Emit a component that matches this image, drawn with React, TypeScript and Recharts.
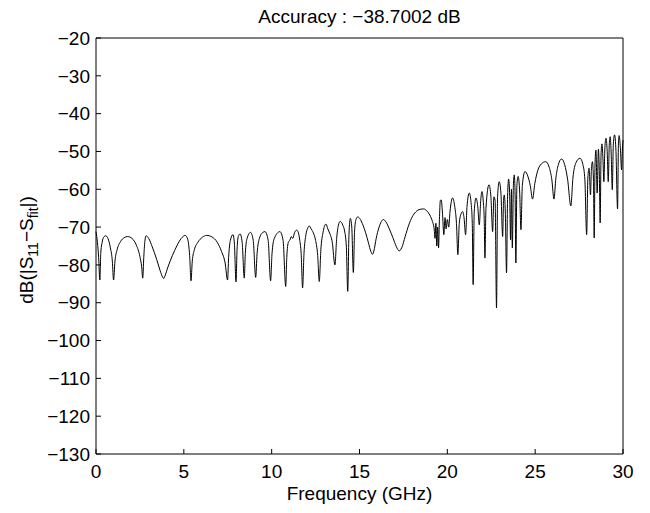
import React from 'react';
import { LineChart, Line, XAxis, YAxis } from 'recharts';

const FONT = '"Liberation Sans", Arial, Helvetica, sans-serif';

const titleText = 'Accuracy : −38.7002 dB';
const xLabelText = 'Frequency (GHz)';
const xTicks = [0, 5, 10, 15, 20, 25, 30];
const yTicks = [-130, -120, -110, -100, -90, -80, -70, -60, -50, -40, -30, -20];

// [frequency GHz, dB(|S11 - Sfit|)]
const band0to5: [number, number][] = [
  [0, -71.2], [0.08, -74], [0.15, -78], [0.22, -84],
  [0.27, -77], [0.35, -74], [0.45, -72.6], [0.55, -72.3], [0.68, -73], [0.82, -75.5], [0.93, -79], [1.0, -84],
  [1.08, -79], [1.2, -76], [1.4, -73.8], [1.6, -72.8], [1.8, -72.5], [2.05, -73], [2.3, -74.8], [2.5, -77.8], [2.6, -80.5], [2.66, -83.5],
  [2.72, -78], [2.78, -73.8], [2.85, -72.3], [3.0, -73], [3.2, -75.2], [3.45, -78.5], [3.65, -81.5], [3.8, -83.3], [3.86, -83.6], [3.92, -83],
  [4.1, -80.5], [4.35, -77.5], [4.6, -75], [4.85, -73], [5.08, -72.2], [5.22, -73.2], [5.33, -77.5], [5.41, -84.2],
];

const band5to11: [number, number][] = [
  [5.48, -79], [5.6, -76], [5.8, -74], [6.05, -72.7], [6.3, -72.2], [6.6, -72.6], [6.9, -74], [7.15, -76.5], [7.35, -79.5], [7.49, -84],
  [7.55, -78], [7.65, -73.5], [7.8, -72], [7.88, -74.5], [7.97, -84.5],
  [8.03, -76], [8.1, -72.5], [8.2, -71.8], [8.32, -74], [8.44, -83.5],
  [8.5, -77], [8.6, -73], [8.8, -71.4], [8.95, -73.5], [9.09, -83.3],
  [9.17, -77], [9.3, -73], [9.5, -71.4], [9.62, -71.2], [9.8, -73.5], [9.94, -84.2],
  [10.02, -77], [10.15, -73], [10.47, -71.2], [10.65, -73.5], [10.8, -85.7],
];

const band11to15: [number, number][] = [
  [10.86, -78], [10.95, -74], [11.04, -73.4], [11.12, -72.5], [11.2, -73], [11.3, -71.5], [11.42, -70.8], [11.52, -71.5], [11.6, -73.5], [11.68, -77], [11.76, -86.1],
  [11.84, -77], [11.95, -72], [12.05, -70.3], [12.14, -69.7], [12.25, -70.5], [12.37, -71.5], [12.5, -73.5], [12.62, -77.5], [12.71, -84.4],
  [12.8, -76], [12.92, -71.5], [13.09, -69.2], [13.2, -70.5], [13.3, -71.6], [13.45, -74], [13.6, -80],
  [13.7, -73], [13.8, -69.5], [13.9, -68.5], [14.05, -69.5], [14.15, -71], [14.25, -75], [14.33, -87],
  [14.4, -72], [14.48, -67.7], [14.56, -70], [14.65, -82], [14.72, -71], [14.8, -68], [14.9, -67.3],
];

const band15to20: [number, number][] = [
  [15.05, -68], [15.2, -69.5], [15.35, -71.5], [15.5, -74], [15.65, -76.5], [15.74, -77.2], [15.82, -76.3], [15.95, -73], [16.1, -70.2], [16.25, -68.5], [16.35, -68],
  [16.5, -68.6], [16.7, -70.5], [16.9, -72.8], [17.1, -75.2], [17.26, -76.3], [17.4, -75.5], [17.6, -72.5], [17.8, -69.5], [18.0, -67.3], [18.2, -66], [18.45, -65.3], [18.65, -65.2],
  [18.85, -65.8], [19.0, -66.8], [19.15, -68.5], [19.25, -70.5], [19.3, -73], [19.35, -69], [19.4, -75], [19.45, -70], [19.5, -75.5], [19.55, -68], [19.6, -63], [19.65, -62.8],
  [19.72, -66], [19.8, -72], [19.87, -67.5], [19.93, -70.5], [20.0, -68], [20.08, -70], [20.15, -66], [20.3, -62.3],
];

const band20to25: [number, number][] = [
  [20.42, -64.5], [20.52, -69], [20.6, -77.3], [20.68, -69], [20.78, -66.5], [20.87, -65.9], [20.95, -67.5], [21.04, -72],
  [21.12, -64.5], [21.25, -61], [21.35, -63.5], [21.42, -69], [21.47, -85.2], [21.53, -66], [21.63, -62.3], [21.73, -64.5], [21.82, -69.4],
  [21.9, -63], [21.97, -60.6], [22.05, -63.5], [22.1, -68], [22.14, -78.2], [22.2, -65], [22.37, -58.8], [22.48, -62], [22.58, -71.2],
  [22.65, -62], [22.72, -63], [22.8, -91.4], [22.86, -62], [22.95, -58], [23.05, -61], [23.15, -72.5], [23.2, -63], [23.24, -61.5], [23.3, -66], [23.37, -82.1],
  [23.43, -62], [23.49, -57.3], [23.55, -62], [23.6, -73.4], [23.65, -60], [23.7, -75.5], [23.76, -59], [23.81, -56.2], [23.86, -62], [23.9, -79.5],
  [23.96, -59], [24.03, -56.6], [24.12, -61], [24.19, -70.7], [24.27, -59], [24.42, -55.3], [24.58, -56.5], [24.72, -59], [24.85, -62.6],
  [24.98, -58.5], [25.15, -55], [25.35, -53.3],
];

const band25to30: [number, number][] = [
  [25.6, -52.7], [25.8, -54.2], [25.95, -57.5], [26.07, -62.6], [26.18, -57], [26.32, -53.5], [26.5, -52], [26.68, -53.5], [26.85, -57.5], [27.03, -64.4],
  [27.15, -57], [27.32, -53], [27.55, -51.8], [27.72, -53.5], [27.83, -57.5], [27.93, -72], [28.0, -57], [28.07, -54.4], [28.15, -61.5], [28.2, -55],
  [28.26, -52.7], [28.32, -58], [28.36, -72.9], [28.41, -53], [28.46, -49.6], [28.53, -61], [28.6, -49.4], [28.65, -55], [28.7, -68.9], [28.75, -51],
  [28.8, -48], [28.86, -52], [28.91, -58], [28.97, -49], [29.03, -46.5], [29.1, -50], [29.16, -58], [29.22, -48], [29.27, -46.1], [29.33, -51],
  [29.39, -60.1], [29.45, -48], [29.52, -45.6], [29.6, -50], [29.69, -65.2], [29.74, -48], [29.78, -45.8], [29.85, -49], [29.92, -54.9], [29.96, -50], [30.0, -47],
];

const data = [...band0to5, ...band5to11, ...band11to15, ...band15to20, ...band20to25, ...band25to30].map(([f, d]) => ({ f, d }));

const fmt = (v: number) => String(v).replace('-', '\u2212');

const TitleLabel = (props: any) => {
  const vb = props.viewBox || { x: 96, y: 8, width: 527, height: 30 };
  return (
    <text x={vb.x + vb.width / 2} y={23} textAnchor="middle" fill="#000" fontSize={19} fontFamily={FONT}>
      {titleText}
    </text>
  );
};

const XTitle = (props: any) => {
  const vb = props.viewBox || { x: 96, y: 454, width: 527, height: 59 };
  return (
    <text x={vb.x + vb.width / 2} y={500} textAnchor="middle" fill="#000" fontSize={19} fontFamily={FONT}>
      {xLabelText}
    </text>
  );
};

const YTitle = (props: any) => {
  const vb = props.viewBox || { x: 0, y: 38, width: 96, height: 416 };
  const cy = vb.y + vb.height / 2 + 4;
  return (
    <text transform="rotate(-90)" x={-cy} y={33} textAnchor="middle" fill="#000" fontSize={19} fontFamily={FONT}>
      dB(|S
      <tspan dy={5} fontSize={14}>11</tspan>
      <tspan dy={-5}>{'\u2212'}S</tspan>
      <tspan dy={5} fontSize={14}>fit</tspan>
      <tspan dy={-5}>|)</tspan>
    </text>
  );
};

export default function App() {
  const tickStyle = { fill: '#000', fontSize: 19, fontFamily: FONT };
  return (
    <div style={{ position: 'absolute', left: 0, top: 0, width: 650, height: 513, background: '#fff' }}>
      <LineChart width={650} height={513} data={data} margin={{ top: 8, right: 0, bottom: 0, left: 0 }}>
        <XAxis
          xAxisId="b"
          dataKey="f"
          type="number"
          orientation="bottom"
          domain={[0, 30]}
          ticks={xTicks}
          interval={0}
          height={59}
          tickSize={-5}
          tickMargin={15.5}
          stroke="#000"
          tick={tickStyle}
          tickFormatter={fmt}
          label={XTitle}
        />
        <XAxis
          xAxisId="t"
          dataKey="f"
          type="number"
          orientation="top"
          domain={[0, 30]}
          ticks={xTicks}
          interval={0}
          height={30}
          tickSize={-5}
          stroke="#000"
          tick={false}
          label={TitleLabel}
        />
        <YAxis
          yAxisId="l"
          type="number"
          orientation="left"
          domain={[-130, -20]}
          ticks={yTicks}
          interval={0}
          width={96}
          tickSize={-5}
          tickMargin={11}
          stroke="#000"
          tick={tickStyle}
          tickFormatter={fmt}
          label={YTitle}
        />
        <YAxis
          yAxisId="r"
          type="number"
          orientation="right"
          domain={[-130, -20]}
          ticks={yTicks}
          interval={0}
          width={27}
          tickSize={-5}
          stroke="#000"
          tick={false}
        />
        <Line
          xAxisId="b"
          yAxisId="l"
          dataKey="d"
          type="monotone"
          stroke="#000"
          strokeWidth={1}
          dot={false}
          activeDot={false}
          isAnimationActive={false}
        />
      </LineChart>
    </div>
  );
}
